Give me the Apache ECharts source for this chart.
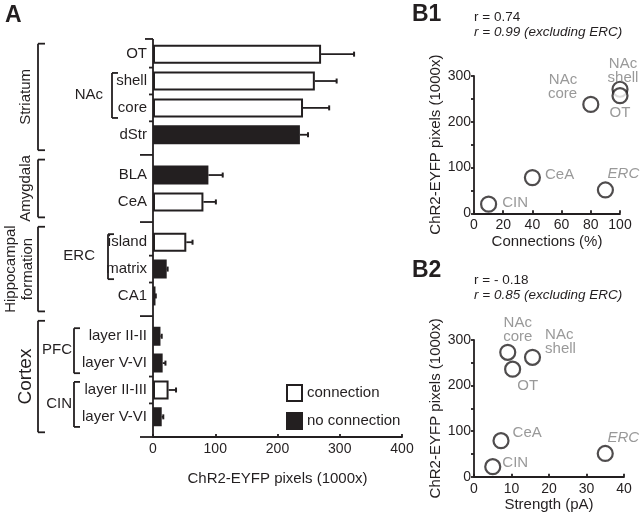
<!DOCTYPE html>
<html>
<head>
<meta charset="utf-8">
<script src="https://cdn.jsdelivr.net/npm/echarts@6/dist/echarts.min.js"></script>
<style>html,body{margin:0;padding:0;background:#fff}#main{width:640px;height:516px}</style>
</head>
<body>
<div id="main"></div>
<script>
// ---- Panel A data ----
const barLabels = ['OT','shell','core','dStr','BLA','CeA','island','matrix','CA1','layer II-II','layer V-VI','layer II-III','layer V-VI'];
const barValues = [270, 260, 241, 236, 89, 81, 53.5, 22, 4, 12, 15.5, 25, 14];
const barErrors = [53, 35, 42, 13, 23, 20, 10, 1.5, 0.5, 2, 4.5, 12, 2.5];
const barConnected = [true, true, true, false, false, true, true, false, false, false, false, true, false];
const groupStarts = [4, 6, 9];           // first bar of a new region group
const xTicksA = [0, 100, 200, 300, 400];

// ---- Panel B1 data ----
const scatNames = ['CIN', 'CeA', 'NAc core', 'ERC', 'NAc shell', 'OT'];
const b1Connections = [10, 40, 80, 90, 100, 100];
const b1Pixels = [20, 78, 238, 51, 271, 257];
// ---- Panel B2 data ----
const b2Strength = [5, 7.2, 9, 35, 15.6, 10.3];
const b2Pixels = [22, 79, 273, 51, 262, 236];

const FONT = '"Liberation Sans", Arial, Helvetica, sans-serif';
const BLACK = '#231f20';
const GRAY = '#808080';

// Build the category slots: spacer at top, spacer between bars, extra spacer between groups, spacer at bottom
const cats = [''];
const barSlot = [];
barLabels.forEach((l, i) => {
  if (i > 0) cats.push('');
  if (groupStarts.includes(i)) cats.push('');
  barSlot.push(cats.length);
  cats.push(l);
});
cats.push('');

const connData = cats.map(() => '-');
const noConnData = cats.map(() => '-');
barValues.forEach((v, i) => { (barConnected[i] ? connData : noConnData)[barSlot[i]] = v; });
const errData = barValues.map((v, i) => [barSlot[i], v, barErrors[i]]);

// scatter label placement (style, kept apart from data)
const b1LabelPos = {
  'CIN': {position: 'right', distance: 5, offset: [0, -1]},
  'CeA': {position: 'right', distance: 4, offset: [0, -3]},
  'NAc core': {position: 'left', distance: 5, offset: [0, -18]},
  'ERC': {position: 'top', distance: 1, offset: [18, 0], fontStyle: 'italic'},
  'NAc shell': {position: 'top', distance: -4, offset: [3, 0]},
  'OT': {position: 'bottom', distance: 2, offset: [0, 0]}
};
const b2LabelPos = {
  'CIN': {position: 'right', distance: 1, offset: [0, -4]},
  'CeA': {position: 'right', distance: 3, offset: [0, -8]},
  'NAc core': {position: 'top', distance: 0, offset: [10, 0]},
  'ERC': {position: 'top', distance: 0, offset: [18, 0], fontStyle: 'italic'},
  'NAc shell': {position: 'right', distance: 4, offset: [0, -15]},
  'OT': {position: 'bottom', distance: 1, offset: [15, 0]}
};
function scatterData(xs, ys, pos) {
  return scatNames.map((n, i) => ({
    name: n, value: [xs[i], ys[i]],
    label: Object.assign({show: true, formatter: n.replace(' ', '\n'), color: GRAY, fontSize: 15, fontFamily: FONT, lineHeight: 14}, pos[n])
  }));
}

const axisLineStyle = {color: BLACK, width: 1.8};
const scatterSeriesStyle = {symbol: 'circle', symbolSize: 15, itemStyle: {color: '#fff', borderColor: BLACK, borderWidth: 2.2}, z: 5};

function scatterX(gridIndex, max, interval, name) {
  return {gridIndex, type: 'value', min: 0, max, interval, name, nameLocation: 'middle', nameGap: 21,
    nameTextStyle: {fontSize: 15, fontFamily: FONT, color: BLACK},
    axisLine: {show: true, lineStyle: axisLineStyle}, axisTick: {show: true, inside: true, length: 3, lineStyle: axisLineStyle},
    axisLabel: {fontSize: 14, fontFamily: FONT, color: BLACK, margin: 5}, splitLine: {show: false}};
}
function scatterY(gridIndex) {
  return {gridIndex, type: 'value', min: 0, max: 300, interval: 100, name: 'ChR2-EYFP pixels (1000x)', nameLocation: 'middle', nameGap: 27,
    nameTextStyle: {fontSize: 15, fontFamily: FONT, color: BLACK},
    axisLine: {show: true, onZero: false, lineStyle: axisLineStyle}, axisTick: {show: true, length: 3, lineStyle: axisLineStyle},
    axisLabel: {fontSize: 14, fontFamily: FONT, color: BLACK, margin: 3}, splitLine: {show: false}};
}
function minorY(gridIndex) {
  return {gridIndex, type: 'value', min: 0, max: 300, interval: 50, axisLine: {show: false},
    axisTick: {show: true, inside: true, length: 3, customValues: [50, 150, 250], lineStyle: axisLineStyle},
    axisLabel: {show: false}, splitLine: {show: false}};
}

const option = {
  animation: false,
  backgroundColor: '#fff',
  textStyle: {fontFamily: FONT},
  grid: [
    {left: 153, top: 34, width: 249, height: 403},
    {left: 474, top: 76, width: 146, height: 137.3},
    {left: 474, top: 340, width: 150, height: 136.7}
  ],
  legend: {
    data: ['connection', 'no connection'], orient: 'vertical', left: 281, top: 379,
    icon: 'rect', itemWidth: 15, itemHeight: 16, itemGap: 10,
    textStyle: {fontSize: 15, fontFamily: FONT, color: BLACK, padding: [0, 0, 0, 0]}
  },
  xAxis: [
    {gridIndex: 0, type: 'value', min: 0, max: 400, interval: 100, name: 'ChR2-EYFP pixels (1000x)', nameLocation: 'middle', nameGap: 34,
      nameTextStyle: {fontSize: 15, fontFamily: FONT, color: BLACK},
      axisLine: {show: true, lineStyle: axisLineStyle}, axisTick: {show: true, inside: true, length: 3, lineStyle: axisLineStyle},
      axisLabel: {fontSize: 14, fontFamily: FONT, color: BLACK, margin: 5}, splitLine: {show: false}},
    scatterX(1, 100, 20, 'Connections (%)'),
    scatterX(2, 40, 10, 'Strength (pA)')
  ],
  yAxis: [
    {gridIndex: 0, type: 'category', inverse: true, data: cats, boundaryGap: true,
      axisLine: {show: false}, axisTick: {show: false},
      axisLabel: {interval: 0, fontSize: 15, fontFamily: FONT, color: BLACK, margin: 6}},
    scatterY(1), minorY(1), scatterY(2), minorY(2)
  ],
  series: [
    {name: 'connection', type: 'bar', xAxisIndex: 0, yAxisIndex: 0, data: connData, barWidth: 19, barGap: '-100%',
      itemStyle: {color: '#fff', borderColor: BLACK, borderWidth: 2}, z: 3},
    {name: 'no connection', type: 'bar', xAxisIndex: 0, yAxisIndex: 0, data: noConnData, barWidth: 19, barGap: '-100%',
      itemStyle: {color: BLACK, borderColor: BLACK, borderWidth: 2}, z: 3},
    {type: 'custom', xAxisIndex: 0, yAxisIndex: 0, data: errData, z: 2,
      renderItem: function (params, api) {
        const slot = api.value(0), v = api.value(1), e = api.value(2);
        const p0 = api.coord([v, slot]);
        const p1 = api.coord([v + e, slot]);
        return {type: 'group', children: [
          {type: 'line', shape: {x1: p0[0], y1: p0[1], x2: p1[0], y2: p1[1]}, style: {stroke: BLACK, lineWidth: 1.8}},
          {type: 'line', shape: {x1: p1[0], y1: p1[1] - 2.5, x2: p1[0], y2: p1[1] + 2.5}, style: {stroke: BLACK, lineWidth: 2}}
        ]};
      }},
    Object.assign({type: 'scatter', xAxisIndex: 1, yAxisIndex: 1, data: scatterData(b1Connections, b1Pixels, b1LabelPos)}, scatterSeriesStyle),
    Object.assign({type: 'scatter', xAxisIndex: 2, yAxisIndex: 3, data: scatterData(b2Strength, b2Pixels, b2LabelPos)}, scatterSeriesStyle)
  ]
};

const chart = echarts.init(document.getElementById('main'), null, {renderer: 'canvas'});
chart.setOption(option);

// ---- annotations for panel A, positioned through the axes ----
const yA0 = chart.convertToPixel({yAxisIndex: 0}, 0);
const yA1 = chart.convertToPixel({yAxisIndex: 0}, 1);
const yAt = s => yA0 + s * (yA1 - yA0);
const x0 = chart.convertToPixel({xAxisIndex: 0}, 0);
const xAxisY = yAt(cats.length - 0.5);
const LW = 1.8;
const g = [];
function line(x1, y1, x2, y2, w) { g.push({type: 'line', shape: {x1, y1, x2, y2}, style: {stroke: BLACK, lineWidth: w || LW}, z: 10}); }
function text(str, x, y, opts) {
  g.push(Object.assign({type: 'text', x, y, z: 10, style: Object.assign({text: str, fill: BLACK, fontFamily: FONT, fontSize: 15, align: 'left', verticalAlign: 'middle'}, opts && opts.style)}, opts && opts.el));
}
function bracket(x, yt, yb, serif) { line(x, yt, x, yb); line(x, yt, x + serif, yt); line(x, yb, x + serif, yb); }

const axisTopSlot = -0.13;
// y axis line and its top tick
line(x0, yAt(axisTopSlot), x0, xAxisY);
line(x0 - 8, yAt(axisTopSlot), x0, yAt(axisTopSlot));
// x axis line extension to the left
line(140, xAxisY, x0, xAxisY);
// short ticks between bars
[0, 1, 2, 6, 7, 10, 11].forEach(i => { const s = (barSlot[i] + barSlot[i + 1]) / 2; line(x0 - 4, yAt(s), x0, yAt(s)); });
// group separators
const seps = groupStarts.map(i => (barSlot[i - 1] + barSlot[i]) / 2);
seps.forEach(s => line(140, yAt(s), x0, yAt(s)));

// outer brackets
const outer = [
  {label: 'Striatum', top: axisTopSlot, bot: seps[0]},
  {label: 'Amygdala', top: seps[0], bot: seps[1]},
  {label: 'Hippocampal\nformation', top: seps[1], bot: seps[2]},
  {label: 'Cortex', top: seps[2], bot: cats.length - 0.5, size: 19}
];
outer.forEach(o => {
  const yt = yAt(o.top + 0.35), yb = yAt(o.bot - 0.35);
  bracket(38, yt, yb, 7);
  const two = o.label.indexOf('\n') >= 0;
  text(o.label, two ? 19 : 26, (yt + yb) / 2, {el: {rotation: Math.PI / 2}, style: {align: 'center', fontSize: o.size || 15, lineHeight: 17}});
});

// inner brackets
const inner = [
  {label: 'NAc', a: 1, b: 2, bx: 112, lx: 103},
  {label: 'ERC', a: 6, b: 7, bx: 108, lx: 95},
  {label: 'PFC', a: 9, b: 10, bx: 74, lx: 72},
  {label: 'CIN', a: 11, b: 12, bx: 74, lx: 72}
];
inner.forEach(o => {
  bracket(o.bx, yAt(barSlot[o.a] - 0.6), yAt(barSlot[o.b] + 0.75), 6);
  text(o.label, o.lx, yAt((barSlot[o.a] + barSlot[o.b]) / 2), {style: {align: 'right'}});
});

// panel letters and correlation texts
text('A', 5, 16, {style: {fontSize: 23, fontWeight: 'bold'}});
text('B1', 412, 15, {style: {fontSize: 23, fontWeight: 'bold'}});
text('B2', 412, 271, {style: {fontSize: 23, fontWeight: 'bold'}});
text('r = 0.74', 474, 17, {style: {fontSize: 13.5}});
text('r = 0.99 (excluding ERC)', 474, 32.5, {style: {fontSize: 13.5, fontStyle: 'italic'}});
text('r = - 0.18', 474, 280, {style: {fontSize: 13.5}});
text('r = 0.85 (excluding ERC)', 474, 295.5, {style: {fontSize: 13.5, fontStyle: 'italic'}});

chart.setOption({graphic: g});
</script>
</body>
</html>
